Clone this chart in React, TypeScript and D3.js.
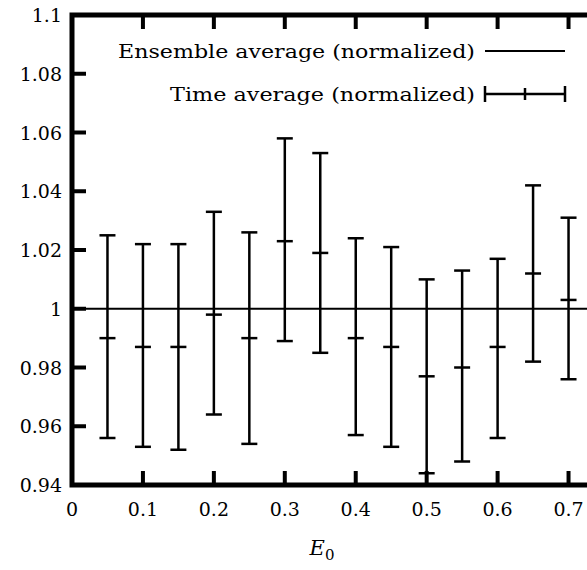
import React from 'react';
import * as d3 from 'd3';

const energies = [0.05, 0.1, 0.15, 0.2, 0.25, 0.3, 0.35, 0.4, 0.45, 0.5, 0.55, 0.6, 0.65, 0.7];
const means = [0.990, 0.987, 0.987, 0.998, 0.990, 1.023, 1.019, 0.990, 0.987, 0.977, 0.980, 0.987, 1.012, 1.003];
const lows = [0.956, 0.953, 0.952, 0.964, 0.954, 0.989, 0.985, 0.957, 0.953, 0.944, 0.948, 0.956, 0.982, 0.976];
const highs = [1.025, 1.022, 1.022, 1.033, 1.026, 1.058, 1.053, 1.024, 1.021, 1.010, 1.013, 1.017, 1.042, 1.031];
const xTicks = [0, 0.1, 0.2, 0.3, 0.4, 0.5, 0.6, 0.7];
const yTicks = [0.94, 0.96, 0.98, 1, 1.02, 1.04, 1.06, 1.08, 1.1];

const W = 587;
const H = 570;
const font = '"DejaVu Serif", "Liberation Serif", serif';

export default function App() {
  const x = d3.scaleLinear().domain([0, 0.75]).range([72, 604]);
  const y = d3.scaleLinear().domain([0.94, 1.1]).range([485, 15]);
  const cap = 8;

  return (
    <svg width={W} height={H} style={{ position: 'absolute', left: 0, top: 0, background: '#fff' }}>
      {yTicks.map((t) => (
        <g key={'y' + t}>
          <line x1={72} x2={86} y1={y(t)} y2={y(t)} stroke="#000" strokeWidth={4} />
          <line x1={604} x2={590} y1={y(t)} y2={y(t)} stroke="#000" strokeWidth={4} />
          <text x={62} y={y(t) + 7} textAnchor="end" fontFamily={font} fontSize={19}>
            {d3.format('')(t)}
          </text>
        </g>
      ))}
      {xTicks.map((t) => (
        <g key={'x' + t}>
          <line x1={x(t)} x2={x(t)} y1={485} y2={471} stroke="#000" strokeWidth={4} />
          <line x1={x(t)} x2={x(t)} y1={15} y2={29} stroke="#000" strokeWidth={4} />
          <text x={x(t)} y={516} textAnchor="middle" fontFamily={font} fontSize={19}>
            {d3.format('')(t)}
          </text>
        </g>
      ))}
      <line x1={72} x2={604} y1={y(1)} y2={y(1)} stroke="#000" strokeWidth={2} />
      {energies.map((e, i) => (
        <g key={e} stroke="#000" strokeWidth={2.5}>
          <line x1={x(e)} x2={x(e)} y1={y(lows[i])} y2={y(highs[i])} />
          <line x1={x(e) - cap} x2={x(e) + cap} y1={y(lows[i])} y2={y(lows[i])} />
          <line x1={x(e) - cap} x2={x(e) + cap} y1={y(highs[i])} y2={y(highs[i])} />
          <line x1={x(e) - cap} x2={x(e) + cap} y1={y(means[i])} y2={y(means[i])} />
        </g>
      ))}
      <text x={475} y={58} textAnchor="end" fontFamily={font} fontSize={19} textLength={357} lengthAdjust="spacingAndGlyphs">Ensemble average (normalized)</text>
      <line x1={485} x2={565} y1={51} y2={51} stroke="#000" strokeWidth={2} />
      <text x={475} y={101} textAnchor="end" fontFamily={font} fontSize={19} textLength={305} lengthAdjust="spacingAndGlyphs">Time average (normalized)</text>
      <g stroke="#000" strokeWidth={2.5}>
        <line x1={485} x2={565} y1={94} y2={94} />
        <line x1={485} x2={485} y1={86} y2={102} />
        <line x1={565} x2={565} y1={86} y2={102} />
        <line x1={525} x2={525} y1={88} y2={100} />
      </g>
      <rect x={72} y={15} width={532} height={470} fill="none" stroke="#000" strokeWidth={5} />
      <text x={322} y={555} textAnchor="middle" fontFamily={font} fontSize={21} fontStyle="italic">
        E<tspan fontSize={15} dy={5} fontStyle="normal">0</tspan>
      </text>
    </svg>
  );
}
